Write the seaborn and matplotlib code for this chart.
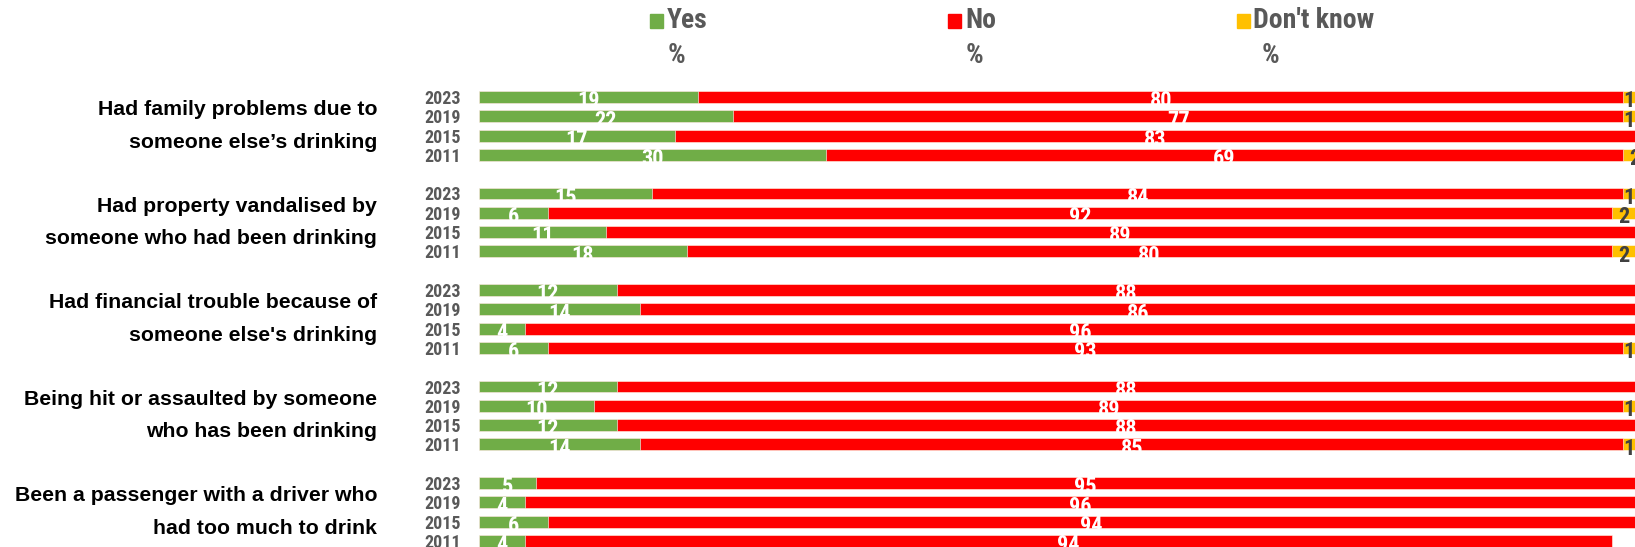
import matplotlib
matplotlib.use("Agg")
import matplotlib.pyplot as plt
import matplotlib.transforms as mtransforms
from matplotlib.patches import Rectangle
import pandas as pd
import seaborn as sns

# --- data (percent) ---
questions = [
    "Had family problems due to\nsomeone else\u2019s drinking",
    "Had property vandalised by\nsomeone who had been drinking",
    "Had financial trouble because of\nsomeone else's drinking",
    "Being hit or assaulted by someone\nwho has been drinking",
    "Been a passenger with a driver who\nhad too much to drink",
]
years = ["2023", "2019", "2015", "2011"]

yes_pct = [
    [19, 22, 17, 30],
    [15, 6, 11, 18],
    [12, 14, 4, 6],
    [12, 10, 12, 14],
    [5, 4, 6, 4],
]
no_pct = [
    [80, 77, 83, 69],
    [84, 92, 89, 80],
    [88, 86, 96, 93],
    [88, 89, 88, 85],
    [95, 96, 94, 94],
]
dk_pct = [
    [1, 1, 0, 2],
    [1, 2, 0, 2],
    [0, 0, 0, 1],
    [0, 1, 0, 1],
    [0, 0, 0, 0],
]

GREEN = "#70AD47"
RED = "#FF0000"
ORANGE = "#FFC000"
GREY = "#595959"
DARK = "#404040"

NARROW = ["Roboto Condensed", "DejaVu Sans"]
WIDE = ["Liberation Sans", "DejaVu Sans"]

# build a long table; one empty slot between question groups
rows = []
order = []
for g, q in enumerate(questions):
    if g > 0:
        order.append(f"gap{g}")
    for i, yr in enumerate(years):
        key = f"{g}-{yr}"
        order.append(key)
        rows.append({
            "key": key, "group": g, "year": yr,
            "yes": yes_pct[g][i], "no": no_pct[g][i], "dk": dk_pct[g][i],
        })
df = pd.DataFrame(rows)
df["yes_no"] = df["yes"] + df["no"]
df["total"] = df["yes_no"] + df["dk"]

W, H, DPI = 1635, 547, 100
fig = plt.figure(figsize=(W / DPI, H / DPI), dpi=DPI)
x0 = 478.6 / W
ax = fig.add_axes([x0, 0, 1 - x0, 1])

bar_kw = dict(order=order, orient="h", width=0.62, errorbar=None, ax=ax,
              edgecolor="white", linewidth=0.4, saturation=1)
# stacked bars drawn as overlapping layers, longest first
sns.barplot(data=df, y="key", x="total", color=ORANGE, **bar_kw)
sns.barplot(data=df, y="key", x="yes_no", color=RED, **bar_kw)
sns.barplot(data=df, y="key", x="yes", color=GREEN, **bar_kw)

ax.set_xlim(0, 100)
row_px = 19.3
first_px = 97
ax.set_ylim((H - first_px) / row_px, -first_px / row_px)
for s in ax.spines.values():
    s.set_visible(False)
ax.set_xticks([])
ax.set_xlabel("")
ax.set_ylabel("")

# year tick labels
ticks = [order.index(k) for k in df["key"]]
ax.set_yticks(ticks)
ax.set_yticklabels(df["year"], color=GREY, fontsize=13, fontweight="bold",
                   family=NARROW)
ax.tick_params(axis="y", length=0, pad=12.5)

# value labels, centred in each segment (they spill below the bar,
# where the white text disappears on the white background)
lab_kw = dict(ha="center", va="baseline", fontsize=16, fontweight="bold",
              family=NARROW)
for _, r in df.iterrows():
    y = order.index(r["key"]) + 0.53
    ax.text(r["yes"] / 2, y, f"{r['yes']}", color="white", **lab_kw)
    ax.text(r["yes"] + r["no"] / 2, y, f"{r['no']}", color="white", **lab_kw)
    if r["dk"] > 0:
        ax.text(r["yes_no"] + r["dk"] / 2, y, f"{r['dk']}", color=DARK,
                clip_on=False, **lab_kw)

# question labels on the left
trans = mtransforms.blended_transform_factory(fig.transFigure, ax.transData)
for g, q in enumerate(questions):
    yc = g * 5 + 1.5
    ax.text(377 / W, yc, q, transform=trans, ha="right", va="center",
            multialignment="right", fontsize=15.3, fontweight="bold",
            color="black", family=WIDE, linespacing=1.9)

# legend drawn at the top
legend_items = [("Yes", GREEN, 650, 667, 668), ("No", RED, 948, 965, 966),
                ("Don't know", ORANGE, 1237, 1253, 1262)]
for label, col, sx, tx, px in legend_items:
    fig.add_artist(Rectangle((sx / W, 1 - 28 / H), 13 / W, 14 / H,
                             transform=fig.transFigure, color=col))
    fig.text(tx / W, 1 - 21 / H, label, ha="left", va="center", fontsize=20,
             fontweight="bold", color=GREY, family=NARROW)
    fig.text(px / W, 1 - 55 / H, "%", ha="left", va="center", fontsize=20,
             fontweight="bold", color=GREY, family=NARROW)

fig.savefig("out.png", dpi=DPI)
